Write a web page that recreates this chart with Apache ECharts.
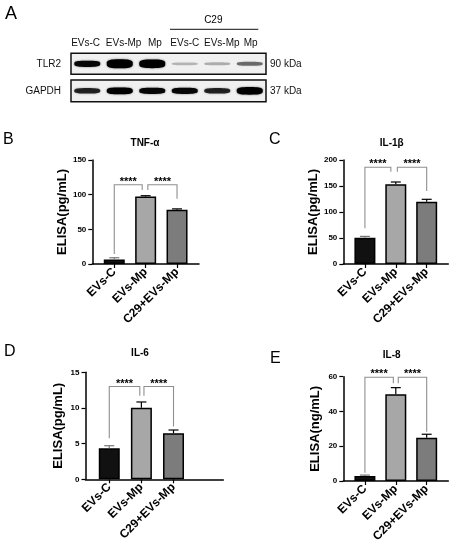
<!DOCTYPE html>
<html>
<head>
<meta charset="utf-8">
<script src="https://cdn.jsdelivr.net/npm/echarts@6/dist/echarts.min.js"></script>
<style>
  html, body { margin: 0; padding: 0; background: #fff; }
  #main { width: 455px; height: 550px; }
</style>
</head>
<body>
<div id="main"></div>
<script>
// western blot (A)
var lanes = ['EVs-C', 'EVs-Mp', 'Mp', 'EVs-C', 'EVs-Mp', 'Mp'];
var tlr2Bands = [0.6, 1.0, 0.95, 0.12, 0.14, 0.3];
var gapdhBands = [0.5, 0.7, 0.6, 0.6, 0.5, 0.8];

// ELISA (B-E)
var groups = ['EVs-C', 'EVs-Mp', 'C29+EVs-Mp'];
var tnfMean = [6.5, 97.2, 78.2];
var tnfErr = [2.5, 1.3, 1.3];
var il1Mean = [50.5, 153.3, 119.8];
var il1Err = [2.6, 4.4, 4.6];
var il6Mean = [4.35, 10.04, 6.45];
var il6Err = [0.36, 0.8, 0.46];
var il8Mean = [2.9, 49.9, 24.9];
var il8Err = [0.5, 3.8, 2.0];

var tnfTicks = [0, 50, 100, 150];
var il1Ticks = [0, 50, 100, 150, 200];
var il6Ticks = [0, 5, 10, 15];
var il8Ticks = [0, 20, 40, 60];

// significance brackets: [x1, x2, top, left leg end, right leg end]
var tnfBrackets = [[1, 1.89, 114.3, 14.3, 106.7], [2.07, 3, 114.3, 106.7, 94]];
var il1Brackets = [[1, 1.84, 186, 68.7, 177.5], [2.05, 3, 186, 177.5, 140.4]];
var il6Brackets = [[1, 1.95, 13, 5.75, 11.7], [2.08, 3, 13, 11.7, 7.4]];
var il8Brackets = [[1, 1.92, 59.7, 4.8, 56.2], [2.08, 3, 59.7, 56.2, 28.4]];

var FONT = '"Liberation Sans", Arial, sans-serif';
var barColors = ['#111111', '#a7a7a7', '#7c7c7c'];

var panels = [
  { title: 'TNF-α', name: 'ELISA(pg/mL)', mean: tnfMean, err: tnfErr, ticks: tnfTicks, brackets: tnfBrackets,
    xMin: 0.3, xMax: 3.7, box: { left: 92.3, top: 160, width: 106.7, height: 104 } },
  { title: 'IL-1β', name: 'ELISA(pg/mL)', mean: il1Mean, err: il1Err, ticks: il1Ticks, brackets: il1Brackets,
    xMin: 0.3, xMax: 3.7, box: { left: 343.3, top: 160, width: 105, height: 104 } },
  { title: 'IL-6', name: 'ELISA(pg/mL)', mean: il6Mean, err: il6Err, ticks: il6Ticks, brackets: il6Brackets,
    xMin: 0.26, xMax: 4.55, box: { left: 85.5, top: 372.3, width: 137.8, height: 107 } },
  { title: 'IL-8', name: 'ELISA(ng/mL)', mean: il8Mean, err: il8Err, ticks: il8Ticks, brackets: il8Brackets,
    xMin: 0.3, xMax: 3.7, box: { left: 343.3, top: 376.7, width: 105, height: 104.3 } }
];

function txt(x, y, s, font, align) {
  return {
    type: 'text', x: x, y: y,
    style: { text: s, font: font, fill: '#000', align: align || 'center', textAlign: align || 'center',
             verticalAlign: 'middle', textVerticalAlign: 'middle' }
  };
}

// band drawn as a flattened ellipse
function renderBand(params, api) {
  var c = api.coord([api.value(0), api.value(1)]);
  var v = api.value(2);
  var rx = 13, ry = (2 + 7 * v) / 2;
  var pts = [];
  for (var i = 0; i <= 40; i++) {
    var t = Math.PI * 2 * i / 40;
    var cx = Math.cos(t), sy = Math.sin(t);
    pts.push([c[0] + rx * Math.sign(cx) * Math.pow(Math.abs(cx), 0.7),
              c[1] + ry * Math.sign(sy) * Math.pow(Math.abs(sy), 0.6)]);
  }
  var a = Math.min(1, 0.05 + 1.5 * v);
  return {
    type: 'polygon', shape: { points: pts },
    style: { fill: 'rgba(0,0,0,' + a + ')', shadowBlur: 2, shadowColor: 'rgba(0,0,0,' + a * 0.6 + ')' }
  };
}

function renderErr(params, api) {
  var x = api.value(0), m = api.value(1), e = api.value(2);
  var p0 = api.coord([x, m]);
  var p1 = api.coord([x, m + e]);
  var col = params.dataIndex === 0 ? '#777' : '#000';
  return {
    type: 'group', children: [
      { type: 'line', shape: { x1: p0[0], y1: p0[1], x2: p1[0], y2: p1[1] }, style: { stroke: col, lineWidth: 1.2 } },
      { type: 'line', shape: { x1: p1[0] - 5, y1: p1[1], x2: p1[0] + 5, y2: p1[1] }, style: { stroke: col, lineWidth: 1.2 } }
    ]
  };
}

function renderBracket(params, api) {
  var x1 = api.value(0), x2 = api.value(1), top = api.value(2);
  var a = api.coord([x1, api.value(3)]);
  var b = api.coord([x1, top]);
  var c = api.coord([x2, top]);
  var d = api.coord([x2, api.value(4)]);
  return {
    type: 'group', children: [
      { type: 'polyline', shape: { points: [a, b, c, d] }, style: { stroke: '#8f8f8f', lineWidth: 1.1, fill: null } },
      { type: 'text', x: (b[0] + c[0]) / 2, y: b[1] - 3,
        style: { text: '****', font: 'bold 11px ' + FONT, fill: '#000', align: 'center', verticalAlign: 'middle',
                 textAlign: 'center', textVerticalAlign: 'middle' } }
    ]
  };
}

var grid = [
  { left: 71, top: 53.3, width: 195, height: 21, show: true, borderColor: '#111', borderWidth: 1.5, backgroundColor: '#f0f0f0' },
  { left: 71, top: 80, width: 195, height: 21.7, show: true, borderColor: '#111', borderWidth: 1.5, backgroundColor: '#f0f0f0' }
];
var xAxis = [
  { gridIndex: 0, type: 'value', min: 0.5, max: 6.5, position: 'top',
    axisLine: { show: false }, axisTick: { show: false }, splitLine: { show: false },
    axisLabel: { customValues: [0.95, 2.12, 3.08, 4.0, 5.14, 6.03],
                 formatter: function (v) { return lanes[Math.round(v) - 1]; },
                 fontSize: 10, color: '#111', margin: 5, fontFamily: FONT } },
  { gridIndex: 1, type: 'value', min: 0.5, max: 6.5, show: false }
];
function rowAxis(gi, label, pos, margin) {
  return { gridIndex: gi, type: 'category', data: [label], position: pos,
           axisLine: { show: false }, axisTick: { show: false }, splitLine: { show: false },
           axisLabel: { fontSize: 10, color: '#111', margin: margin, fontFamily: FONT } };
}
var yAxis = [rowAxis(0, 'TLR2', 'left', 10), rowAxis(0, '90 kDa', 'right', 4),
             rowAxis(1, 'GAPDH', 'left', 10), rowAxis(1, '37 kDa', 'right', 4)];
var series = [
  { type: 'custom', xAxisIndex: 0, yAxisIndex: 0, renderItem: renderBand,
    data: tlr2Bands.map(function (v, i) { return [i + 1, 0, v]; }) },
  { type: 'custom', xAxisIndex: 1, yAxisIndex: 2, renderItem: renderBand,
    data: gapdhBands.map(function (v, i) { return [i + 1, 0, v]; }) }
];

var graphic = [
  txt(5, 14, 'A', '18px ' + FONT, 'left'),
  txt(213.3, 20.7, 'C29', '10px ' + FONT),
  { type: 'line', shape: { x1: 170, y1: 29.3, x2: 258.3, y2: 29.3 }, style: { stroke: '#111', lineWidth: 1 } },
  txt(3, 139.5, 'B', '16px ' + FONT, 'left'),
  txt(269, 139.5, 'C', '16px ' + FONT, 'left'),
  txt(4, 352, 'D', '16px ' + FONT, 'left'),
  txt(270, 359, 'E', '16px ' + FONT, 'left')
];
var titlePos = [[145, 143], [391.7, 143], [140, 353], [391.7, 355]];

panels.forEach(function (p, k) {
  var gi = grid.length, xi = xAxis.length, yi = yAxis.length;
  grid.push(p.box);
  xAxis.push({
    gridIndex: gi, type: 'value', min: p.xMin, max: p.xMax,
    axisLine: { lineStyle: { color: '#000', width: 1.5 } },
    axisTick: { customValues: [1, 2, 3], length: 4, lineStyle: { color: '#000', width: 1.2 } },
    axisLabel: { customValues: [1, 2, 3], formatter: function (v) { return groups[v - 1]; },
                 rotate: 45, fontSize: 12, fontWeight: 'bold', color: '#000', margin: 6, fontFamily: FONT },
    splitLine: { show: false }
  });
  yAxis.push({
    gridIndex: gi, type: 'value', min: p.ticks[0], max: p.ticks[p.ticks.length - 1], interval: p.ticks[1] - p.ticks[0],
    name: p.name, nameLocation: 'middle', nameRotate: 90, nameGap: 21,
    nameTextStyle: { fontSize: 13, fontWeight: 'bold', color: '#000', fontFamily: FONT },
    axisLine: { show: true, lineStyle: { color: '#000', width: 1.5 } },
    axisTick: { show: true, length: 4, lineStyle: { color: '#000', width: 1.2 } },
    axisLabel: { fontSize: 8, fontWeight: 'bold', color: '#000', margin: 6, fontFamily: FONT },
    splitLine: { show: false }
  });
  series.push({
    type: 'bar', xAxisIndex: xi, yAxisIndex: yi, barWidth: 21,
    itemStyle: { borderColor: '#000', borderWidth: 1.5 },
    data: p.mean.map(function (v, j) { return { value: [j + 1, v], itemStyle: { color: barColors[j] } }; })
  });
  series.push({
    type: 'custom', xAxisIndex: xi, yAxisIndex: yi, renderItem: renderErr, z: 3,
    data: p.mean.map(function (v, j) { return [j + 1, v, p.err[j]]; })
  });
  series.push({
    type: 'custom', xAxisIndex: xi, yAxisIndex: yi, renderItem: renderBracket, z: 4,
    data: p.brackets
  });
  graphic.push(txt(titlePos[k][0], titlePos[k][1], p.title, 'bold 10px ' + FONT));
});

var chart = echarts.init(document.getElementById('main'));
chart.setOption({
  animation: false,
  backgroundColor: '#fff',
  textStyle: { fontFamily: FONT },
  grid: grid,
  xAxis: xAxis,
  yAxis: yAxis,
  series: series,
  graphic: graphic
});
</script>
</body>
</html>
